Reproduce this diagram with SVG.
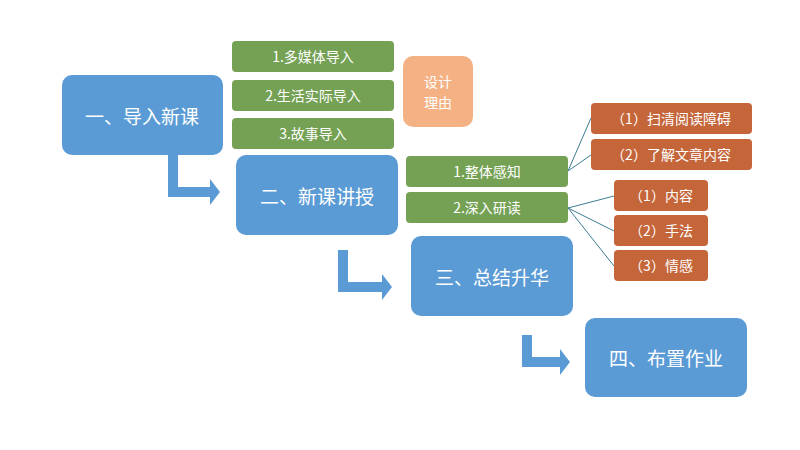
<svg xmlns="http://www.w3.org/2000/svg" width="800" height="450" viewBox="0 0 800 450">
<style>
text{font-family:"Noto Sans CJK SC","Noto Sans",sans-serif;fill:#fff;text-anchor:middle;dominant-baseline:central}
.b{fill:#5b9bd5}.g{fill:#74a154}.o{fill:#c5653a}.p{fill:#f4b183}
.bt{font-size:19px}.st{font-size:14px}
.c{stroke:#3d7c94;stroke-width:1;fill:none}
</style>
<rect width="800" height="450" fill="#fff"/>
<g id="connectors">
<path class="c" d="M568,171L591,118M568,171L591,155M568,208L614,196M568,208L614,231M568,208L614,266"/>
<path class="b" d="M168,155h10v32h32v-8l10,13l-10,13v-8h-42z"/>
<path class="b" d="M338,250h10v32h34v-8l10,13l-10,13v-8h-44z"/>
<path class="b" d="M522,335h10v22h28v-8l10,13l-10,13v-8h-38z"/>
</g>
<g id="n1"><rect class="b" x="62" y="75" width="161" height="80" rx="10"/><text class="bt" x="142" y="115">一、导入新课</text></g>
<g id="n1a"><rect class="g" x="232" y="41" width="162" height="31" rx="4"/><text class="st" x="313" y="56">1.多媒体导入</text></g>
<g id="n1b"><rect class="g" x="232" y="80" width="162" height="31" rx="4"/><text class="st" x="313" y="95">2.生活实际导入</text></g>
<g id="n1c"><rect class="g" x="232" y="118" width="162" height="31" rx="4"/><text class="st" x="313" y="133">3.故事导入</text></g>
<g id="reason"><rect class="p" x="403" y="56" width="70" height="71" rx="10"/><text class="st" x="438" y="81">设计</text><text class="st" x="438" y="102">理由</text></g>
<g id="n2"><rect class="b" x="236" y="155" width="162" height="80" rx="10"/><text class="bt" x="317" y="195">二、新课讲授</text></g>
<g id="n2a"><rect class="g" x="406" y="156" width="162" height="31" rx="4"/><text class="st" x="487" y="171">1.整体感知</text></g>
<g id="n2b"><rect class="g" x="406" y="192" width="162" height="31" rx="4"/><text class="st" x="487" y="207">2.深入研读</text></g>
<g id="n2a1"><rect class="o" x="591" y="103" width="161" height="31" rx="4"/><text class="st" x="671" y="118">（1）扫清阅读障碍</text></g>
<g id="n2a2"><rect class="o" x="591" y="139" width="161" height="31" rx="4"/><text class="st" x="671" y="154">（2）了解文章内容</text></g>
<g id="n2b1"><rect class="o" x="614" y="180" width="94" height="31" rx="4"/><text class="st" x="661" y="195">（1）内容</text></g>
<g id="n2b2"><rect class="o" x="614" y="215" width="94" height="31" rx="4"/><text class="st" x="661" y="230">（2）手法</text></g>
<g id="n2b3"><rect class="o" x="614" y="250" width="94" height="31" rx="4"/><text class="st" x="661" y="265">（3）情感</text></g>
<g id="n3"><rect class="b" x="411" y="236" width="162" height="80" rx="10"/><text class="bt" x="492" y="276">三、总结升华</text></g>
<g id="n4"><rect class="b" x="585" y="318" width="162" height="79" rx="10"/><text class="bt" x="666" y="357">四、布置作业</text></g>
</svg>
